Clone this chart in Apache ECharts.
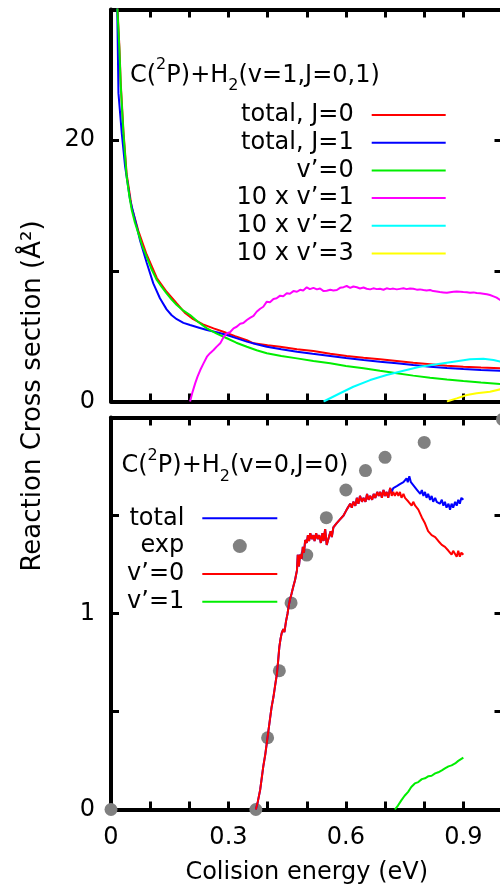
<!DOCTYPE html>
<html>
<head>
<meta charset="utf-8">
<script src="https://cdn.jsdelivr.net/npm/echarts@6/dist/echarts.min.js"></script>
<style>
html, body { margin: 0; padding: 0; background: #fff; }
#main { width: 500px; height: 891px; }
</style>
</head>
<body>
<div id="main"></div>
<script>
var FONT = 'DejaVu Sans';

// upper panel, C(2P)+H2(v=1,J=0,1): [energy eV, cross section A^2]
var totalJ0 = [[0.015,33],[0.0164,30.2],[0.0215,27.1],[0.025,24.3],[0.0318,20.7],[0.04,17.4],[0.053,14.85],[0.07,13.05],[0.091,11.25],[0.117,9.45],[0.142,8.4],[0.168,7.5],[0.19,6.75],[0.21,6.3],[0.235,5.9],[0.262,5.6],[0.287,5.34],[0.317,5.0],[0.347,4.7],[0.364,4.45],[0.4,4.3],[0.432,4.19],[0.475,4.0],[0.517,3.86],[0.56,3.66],[0.602,3.48],[0.645,3.35],[0.687,3.23],[0.73,3.1],[0.772,2.97],[0.815,2.86],[0.858,2.74],[0.9,2.66],[0.945,2.6],[0.994,2.54],[1.0,2.53]];
var totalJ1 = [[0.0155,31],[0.019,23.6],[0.0276,20.5],[0.036,18.0],[0.049,15.4],[0.0616,13.9],[0.074,12.35],[0.0914,10.6],[0.108,9.04],[0.125,7.9],[0.142,7.05],[0.155,6.6],[0.168,6.3],[0.185,6.02],[0.202,5.85],[0.225,5.65],[0.245,5.47],[0.27,5.3],[0.296,5.09],[0.32,4.85],[0.347,4.58],[0.372,4.38],[0.398,4.19],[0.435,4.0],[0.475,3.81],[0.515,3.65],[0.56,3.48],[0.6,3.33],[0.645,3.18],[0.687,3.05],[0.73,2.92],[0.772,2.79],[0.815,2.66],[0.858,2.57],[0.9,2.49],[0.945,2.42],[0.994,2.36],[1.0,2.35]];
var v1v0 = [[0.015,33],[0.0164,29.95],[0.0215,26.9],[0.025,24.1],[0.0318,20.5],[0.04,17.2],[0.047,15.7],[0.053,14.65],[0.061,13.7],[0.07,12.87],[0.08,11.9],[0.091,11.08],[0.104,10.1],[0.117,9.3],[0.13,8.75],[0.142,8.28],[0.155,7.8],[0.168,7.38],[0.185,6.95],[0.202,6.62],[0.222,6.1],[0.245,5.6],[0.27,5.2],[0.296,4.84],[0.32,4.5],[0.347,4.19],[0.372,3.92],[0.398,3.69],[0.435,3.48],[0.475,3.3],[0.517,3.1],[0.56,2.92],[0.6,2.72],[0.645,2.54],[0.687,2.35],[0.73,2.16],[0.772,1.98],[0.815,1.82],[0.858,1.69],[0.9,1.57],[0.945,1.45],[0.994,1.34],[1.0,1.33]];
var v1v1x10 = [[0.202,0],[0.208,0.7],[0.215,1.39],[0.221,1.9],[0.228,2.41],[0.236,2.9],[0.245,3.43],[0.253,3.7],[0.262,3.94],[0.27,4.2],[0.279,4.45],[0.287,4.9],[0.296,5.22],[0.304,5.3],[0.313,5.6],[0.321,5.72],[0.33,5.95],[0.338,6.0],[0.347,6.24],[0.355,6.4],[0.364,6.55],[0.372,6.87],[0.381,7.1],[0.389,7.25],[0.398,7.64],[0.406,7.6],[0.415,7.85],[0.423,7.9],[0.432,8.1],[0.44,8.05],[0.449,8.28],[0.457,8.25],[0.466,8.45],[0.475,8.4],[0.483,8.55],[0.491,8.5],[0.5,8.74],[0.508,8.6],[0.517,8.7],[0.526,8.58],[0.534,8.65],[0.543,8.45],[0.551,8.48],[0.56,8.55],[0.568,8.5],[0.577,8.53],[0.585,8.7],[0.594,8.75],[0.602,8.84],[0.611,8.7],[0.619,8.8],[0.628,8.74],[0.636,8.65],[0.645,8.72],[0.653,8.63],[0.662,8.58],[0.67,8.66],[0.679,8.6],[0.687,8.63],[0.696,8.55],[0.704,8.66],[0.713,8.6],[0.721,8.64],[0.73,8.58],[0.738,8.62],[0.747,8.66],[0.755,8.6],[0.764,8.64],[0.772,8.63],[0.781,8.56],[0.789,8.58],[0.798,8.53],[0.806,8.5],[0.815,8.53],[0.823,8.45],[0.832,8.42],[0.84,8.38],[0.849,8.35],[0.858,8.32],[0.866,8.36],[0.875,8.4],[0.883,8.42],[0.892,8.4],[0.9,8.38],[0.909,8.36],[0.917,8.33],[0.926,8.35],[0.934,8.3],[0.943,8.28],[0.951,8.25],[0.96,8.2],[0.968,8.15],[0.977,8.05],[0.985,7.95],[0.994,7.77],[1.0,7.65]];
var v1v2x10 = [[0.543,0],[0.585,0.63],[0.619,1.13],[0.662,1.64],[0.704,2.03],[0.747,2.36],[0.789,2.66],[0.832,2.85],[0.875,3.05],[0.917,3.23],[0.951,3.28],[0.977,3.18],[0.994,3.05],[1.0,3.0]];
var v1v3x10 = [[0.858,0],[0.883,0.24],[0.909,0.5],[0.934,0.63],[0.968,0.75],[0.994,0.93],[1.0,0.96]];

// lower panel, C(2P)+H2(v=0,J=0)
var v0v0 = [[0.37,0],[0.375,0.04],[0.381,0.1],[0.385,0.16],[0.389,0.22],[0.394,0.28],[0.398,0.34],[0.402,0.4],[0.406,0.46],[0.41,0.52],[0.415,0.575],[0.419,0.63],[0.424,0.695],[0.427,0.76],[0.43,0.83],[0.433,0.87],[0.436,0.9],[0.44,0.92],[0.443,0.905],[0.447,0.96],[0.451,1.0],[0.454,1.04],[0.457,1.07],[0.461,1.1],[0.466,1.14],[0.47,1.17],[0.473,1.2],[0.475,1.22],[0.477,1.3],[0.48,1.24],[0.483,1.3],[0.487,1.28],[0.49,1.34],[0.493,1.31],[0.496,1.375],[0.5,1.36],[0.503,1.4],[0.506,1.37],[0.509,1.41],[0.513,1.38],[0.517,1.4],[0.52,1.37],[0.524,1.41],[0.528,1.38],[0.532,1.4],[0.536,1.36],[0.54,1.41],[0.543,1.37],[0.547,1.43],[0.551,1.35],[0.555,1.34],[0.558,1.4],[0.561,1.42],[0.564,1.39],[0.568,1.44],[0.572,1.43],[0.576,1.46],[0.58,1.45],[0.585,1.48],[0.59,1.47],[0.594,1.5],[0.598,1.49],[0.602,1.53],[0.606,1.52],[0.611,1.56],[0.615,1.54],[0.619,1.57],[0.624,1.55],[0.628,1.59],[0.632,1.56],[0.636,1.6],[0.641,1.57],[0.645,1.59],[0.65,1.57],[0.654,1.61],[0.658,1.58],[0.662,1.6],[0.667,1.58],[0.671,1.61],[0.675,1.59],[0.68,1.62],[0.684,1.6],[0.688,1.62],[0.692,1.59],[0.696,1.63],[0.7,1.6],[0.704,1.62],[0.708,1.59],[0.713,1.64],[0.717,1.6],[0.721,1.62],[0.725,1.6],[0.73,1.62],[0.734,1.6],[0.738,1.62],[0.742,1.59],[0.747,1.61],[0.751,1.59],[0.755,1.6],[0.76,1.57],[0.764,1.58],[0.768,1.55],[0.772,1.57],[0.777,1.55],[0.781,1.56],[0.785,1.53],[0.79,1.52],[0.794,1.49],[0.798,1.48],[0.802,1.46],[0.806,1.45],[0.81,1.42],[0.815,1.42],[0.819,1.4],[0.823,1.41],[0.828,1.39],[0.832,1.4],[0.836,1.37],[0.84,1.38],[0.845,1.35],[0.849,1.36],[0.853,1.34],[0.857,1.35],[0.862,1.32],[0.866,1.33],[0.87,1.3],[0.874,1.32],[0.879,1.31],[0.883,1.29],[0.887,1.32],[0.891,1.29],[0.895,1.31],[0.9,1.3]];
// above the v'=1 threshold the total splits from v'=0
var v0totalHigh = [[0.713,1.64],[0.717,1.62],[0.721,1.64],[0.725,1.63],[0.73,1.65],[0.734,1.64],[0.738,1.66],[0.742,1.65],[0.747,1.67],[0.751,1.66],[0.755,1.69],[0.758,1.67],[0.762,1.7],[0.766,1.67],[0.77,1.68],[0.774,1.65],[0.778,1.66],[0.782,1.63],[0.786,1.64],[0.79,1.61],[0.794,1.63],[0.798,1.6],[0.802,1.62],[0.806,1.59],[0.81,1.61],[0.815,1.58],[0.819,1.6],[0.823,1.57],[0.828,1.59],[0.832,1.57],[0.836,1.58],[0.84,1.56],[0.845,1.58],[0.849,1.55],[0.853,1.57],[0.857,1.54],[0.862,1.56],[0.866,1.53],[0.87,1.56],[0.874,1.54],[0.879,1.57],[0.883,1.55],[0.887,1.58],[0.891,1.56],[0.895,1.59],[0.9,1.58]];
var v0v1 = [[0.725,0],[0.733,0.02],[0.742,0.048],[0.75,0.07],[0.759,0.09],[0.767,0.115],[0.776,0.133],[0.785,0.14],[0.794,0.155],[0.802,0.159],[0.811,0.17],[0.819,0.172],[0.828,0.184],[0.836,0.19],[0.845,0.2],[0.853,0.21],[0.862,0.22],[0.87,0.225],[0.879,0.235],[0.887,0.248],[0.9,0.265]];
var expData = [[0,0],[0.37,0],[0.4,0.366],[0.43,0.708],[0.46,1.054],[0.5,1.298],[0.55,1.489],[0.6,1.63],[0.65,1.729],[0.7,1.797],[0.8,1.873],[1.0,1.99]];

var v0total = v0v0.filter(function (p) { return p[0] < 0.712; }).concat(v0totalHigh);

var topNames = ['total, J=0', 'total, J=1', 'v’=0', '10 x v’=1', '10 x v’=2', '10 x v’=3'];
var botNames = ['b:total', 'b:exp', 'b:v’=0', 'b:v’=1'];

function frameAxis(gridIndex, position, min, max, interval, labelFn) {
	return {
		type: 'value',
		gridIndex: gridIndex,
		position: position,
		min: min,
		max: max,
		interval: interval,
		axisLine: { show: true, onZero: false, lineStyle: { color: '#000', width: 4 } },
		axisTick: { show: true, inside: true, length: 8, lineStyle: { color: '#000', width: 3 } },
		axisLabel: labelFn ? {
			show: true, formatter: labelFn, fontFamily: FONT, fontSize: 24, color: '#000', margin: 16
		} : { show: false },
		splitLine: { show: false }
	};
}

var xLabel = function (v) {
	var t = Math.round(v * 10);
	return (t % 3 === 0 && t < 10) ? String(t / 10) : '';
};
var bottomX = frameAxis(1, 'bottom', 0, 1, 0.1, xLabel);
bottomX.name = 'Colision energy (eV)';
bottomX.nameLocation = 'middle';
bottomX.nameGap = 51;
bottomX.nameTextStyle = { fontFamily: FONT, fontSize: 24, color: '#000' };

function line(name, data, color, xi) {
	return {
		name: name, type: 'line', data: data,
		xAxisIndex: xi, yAxisIndex: xi,
		symbol: 'none', showSymbol: false, clip: true,
		lineStyle: { color: color, width: 2 },
		itemStyle: { color: color }
	};
}

// legend entry with only the line sample, no marker
function lineItem(name) {
	return { name: name, itemStyle: { opacity: 0, borderWidth: 0 } };
}

var richTitle = {
	a: { fontFamily: FONT, fontSize: 24, fontWeight: 'normal', lineHeight: 37, color: '#000' },
	sup: { fontFamily: FONT, fontSize: 16, fontWeight: 'normal', lineHeight: 16, verticalAlign: 'top', color: '#000' },
	sub: { fontFamily: FONT, fontSize: 16, fontWeight: 'normal', lineHeight: 16, verticalAlign: 'bottom', color: '#000' }
};

var legendText = { fontFamily: FONT, fontSize: 24, lineHeight: 24, color: '#000', padding: [0, 13, 0, 0] };

var myChart = echarts.init(document.getElementById('main'));
var option = {
	animation: false,
	backgroundColor: '#fff',
	title: [{
		text: '{a|C(}{sup|2}{a|P)+H}{sub|2}{a|(v=1,J=0,1)}',
		left: 130, top: 57, padding: 0,
		textStyle: { fontWeight: 'normal', rich: richTitle }
	}, {
		text: '{a|C(}{sup|2}{a|P)+H}{sub|2}{a|(v=0,J=0)}',
		left: 121.5, top: 447.5, padding: 0,
		textStyle: { fontWeight: 'normal', rich: richTitle }
	}],
	legend: [{
		data: topNames.map(lineItem),
		orient: 'vertical', align: 'right',
		right: 53.3, top: 103, padding: 0,
		itemWidth: 74, itemHeight: 14, itemGap: 3.7,
		selectedMode: false,
		textStyle: legendText
	}, {
		data: [lineItem(botNames[0]), { name: botNames[1] }, lineItem(botNames[2]), lineItem(botNames[3])],
		orient: 'vertical', align: 'right',
		right: 221.7, top: 506.3, padding: 0,
		itemWidth: 75, itemHeight: 14, itemGap: 3.8,
		selectedMode: false,
		formatter: function (name) { return name.replace(/^b:/, ''); },
		textStyle: legendText
	}],
	grid: [
		{ left: 111, top: 9.5, width: 391.5, height: 392, outerBoundsMode: 'none', containLabel: false },
		{ left: 111, top: 417.5, width: 391.5, height: 392, outerBoundsMode: 'none', containLabel: false }
	],
	xAxis: [
		frameAxis(0, 'bottom', 0, 1, 0.1, null),
		bottomX,
		frameAxis(0, 'top', 0, 1, 0.1, null),
		frameAxis(1, 'top', 0, 1, 0.1, null)
	],
	yAxis: [
		frameAxis(0, 'left', 0, 30, 10, function (v) { return (v === 0 || v === 20) ? String(v) : ''; }),
		frameAxis(1, 'left', 0, 2, 0.5, function (v) { return (v === 0 || v === 1) ? String(v) : ''; }),
		frameAxis(0, 'right', 0, 30, 10, null),
		frameAxis(1, 'right', 0, 2, 0.5, null)
	],
	graphic: [{
		type: 'text',
		x: 33, y: 396,
		rotation: Math.PI / 2,
		style: {
			text: 'Reaction Cross section (Å²)',
			font: '26px "DejaVu Sans"',
			fill: '#000',
			align: 'center',
			verticalAlign: 'middle'
		}
	}],
	series: [
		line(topNames[0], totalJ0, '#ff0000', 0),
		line(topNames[1], totalJ1, '#0000ff', 0),
		line(topNames[2], v1v0, '#00ee00', 0),
		line(topNames[3], v1v1x10, '#ff00ff', 0),
		line(topNames[4], v1v2x10, '#00ffff', 0),
		line(topNames[5], v1v3x10, '#ffff00', 0),
		{
			name: botNames[1], type: 'scatter', data: expData,
			xAxisIndex: 1, yAxisIndex: 1,
			symbol: 'circle', symbolSize: 13, clip: false,
			itemStyle: { color: '#808080', opacity: 1 }
		},
		line(botNames[0], v0total, '#0000ff', 1),
		line(botNames[2], v0v0, '#ff0000', 1),
		line(botNames[3], v0v1, '#00ee00', 1)
	]
};
myChart.setOption(option);
</script>
</body>
</html>
